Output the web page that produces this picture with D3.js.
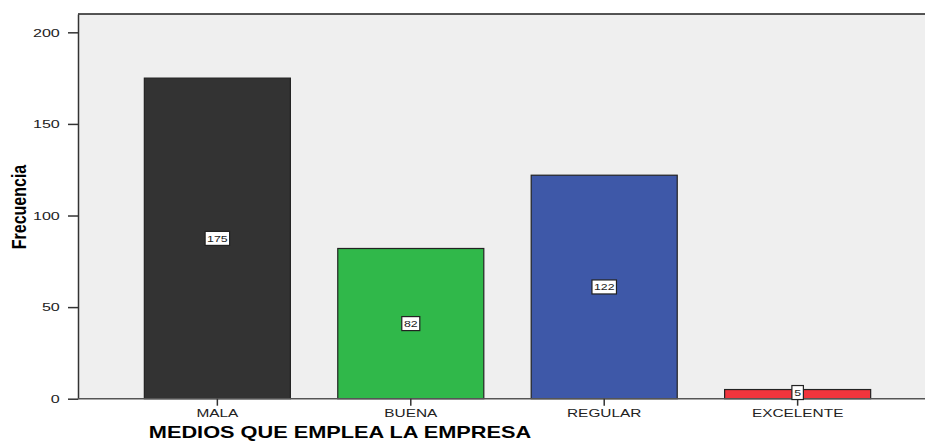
<!DOCTYPE html>
<head>
  <meta charset="utf-8">
  <script src="https://d3js.org/d3.v7.min.js"></script>
  <style>
    body { margin:0; background:#fff; }
    text { font-family: "Liberation Sans", Arial, sans-serif; }
  </style>
</head>
<body>
<div id="chart"></div>
<script>
  var width = 925;
  var height = 441;
  var margin = {top: 14, left: 78, bottom: 42};

  // data
  var categories = ["MALA", "BUENA", "REGULAR", "EXCELENTE"];
  var counts = [175, 82, 122, 5];
  var barColors = ["#333333", "#30b84a", "#3e58a8", "#f0353d"];
  var yTicks = [0, 50, 100, 150, 200];
  var xTitle = "MEDIOS QUE EMPLEA LA EMPRESA";
  var yTitle = "Frecuencia";

  var stretch = 1.4; // text in the picture is widened

  var svg = d3.select("#chart").append("svg")
    .attr("width", width)
    .attr("height", height);

  // the plot area runs a little past the right edge of the picture
  var xScale = d3.scaleBand()
    .domain(categories)
    .range([margin.left, 937])
    .paddingInner(0.245)
    .paddingOuter(0.343);

  var yScale = d3.scaleLinear()
    .domain([0, 210])
    .range([height - margin.bottom - 0.3, margin.top]);

  var y0 = yScale(0);

  //plot background
  svg.append("rect")
    .attr("x", margin.left)
    .attr("y", margin.top)
    .attr("width", 937 - margin.left)
    .attr("height", y0 - margin.top)
    .attr("fill", "#efefef");

  //top border
  svg.append("line")
    .attr("x1", margin.left).attr("x2", width)
    .attr("y1", margin.top).attr("y2", margin.top)
    .attr("stroke", "#1e1e1e").attr("stroke-width", 1.5);

  //bars
  var data = categories.map(function(c, i) {
    return {cat: c, n: counts[i], color: barColors[i]};
  });

  svg.selectAll("rect.bar")
    .data(data)
    .enter().append("rect")
    .attr("class", "bar")
    .attr("x", function(d) { return xScale(d.cat); })
    .attr("y", function(d) { return yScale(d.n); })
    .attr("width", xScale.bandwidth())
    .attr("height", function(d) { return y0 - yScale(d.n); })
    .attr("fill", function(d) { return d.color; })
    .attr("stroke", "#222")
    .attr("stroke-width", 1.2);

  //y axis
  var yAxis = d3.axisLeft(yScale).tickValues(yTicks).tickSize(10).tickSizeOuter(0).tickPadding(3);
  var yAxisGroup = svg.append("g")
    .attr("transform", "translate(" + margin.left + ",0)")
    .call(yAxis);
  yAxisGroup.select(".domain").attr("stroke", "#333").attr("stroke-width", 1.5);
  yAxisGroup.selectAll(".tick line").attr("stroke", "#333").attr("stroke-width", 1.5);
  yAxisGroup.selectAll(".tick text")
    .attr("x", -13)
    .attr("transform", "scale(" + stretch + ",1)")
    .attr("font-size", "11.5px")
    .attr("fill", "#222")
    .attr("font-family", "Liberation Sans, Arial, sans-serif");

  //x axis
  var xAxis = d3.axisBottom(xScale).tickSize(7).tickSizeOuter(0).tickPadding(3);
  var xAxisGroup = svg.append("g")
    .attr("transform", "translate(0," + y0 + ")")
    .call(xAxis);
  xAxisGroup.select(".domain")
    .attr("d", "M" + margin.left + ",0H" + width)
    .attr("stroke", "#555").attr("stroke-width", 1.5);
  xAxisGroup.selectAll(".tick line").attr("stroke", "#333").attr("stroke-width", 1.5);
  xAxisGroup.selectAll(".tick text")
    .attr("transform", "scale(" + stretch + ",1)")
    .attr("font-size", "11px")
    .attr("fill", "#222")
    .attr("font-family", "Liberation Sans, Arial, sans-serif");

  //value labels in the middle of each bar
  var labels = svg.selectAll("g.vlabel")
    .data(data)
    .enter().append("g")
    .attr("class", "vlabel")
    .attr("transform", function(d) {
      var cx = xScale(d.cat) + xScale.bandwidth() / 2;
      var cy = d.n < 10 ? yScale(d.n) + 3 : yScale(d.n / 2);
      return "translate(" + cx + "," + cy + ")";
    });

  labels.append("rect")
    .attr("x", function(d) { return -(String(d.n).length * 6.5 + 5) / 2; })
    .attr("y", -7)
    .attr("width", function(d) { return String(d.n).length * 6.5 + 5; })
    .attr("height", 14)
    .attr("fill", "#fff")
    .attr("stroke", "#222")
    .attr("stroke-width", 1.2);

  labels.append("text")
    .attr("text-anchor", "middle")
    .attr("y", 3.5)
    .attr("transform", "scale(1.3,1)")
    .attr("font-size", "9.5px")
    .attr("fill", "#222")
    .text(function(d) { return d.n; });

  //axis titles
  svg.append("text")
    .attr("transform", "translate(340,438) scale(1.36,1)")
    .attr("text-anchor", "middle")
    .attr("font-size", "16px")
    .attr("font-weight", "bold")
    .attr("fill", "#000")
    .text(xTitle);

  svg.append("text")
    .attr("transform", "translate(26,207) rotate(-90) scale(1,1.25)")
    .attr("text-anchor", "middle")
    .attr("font-size", "16px")
    .attr("font-weight", "bold")
    .attr("fill", "#000")
    .text(yTitle);
</script>
</body>
